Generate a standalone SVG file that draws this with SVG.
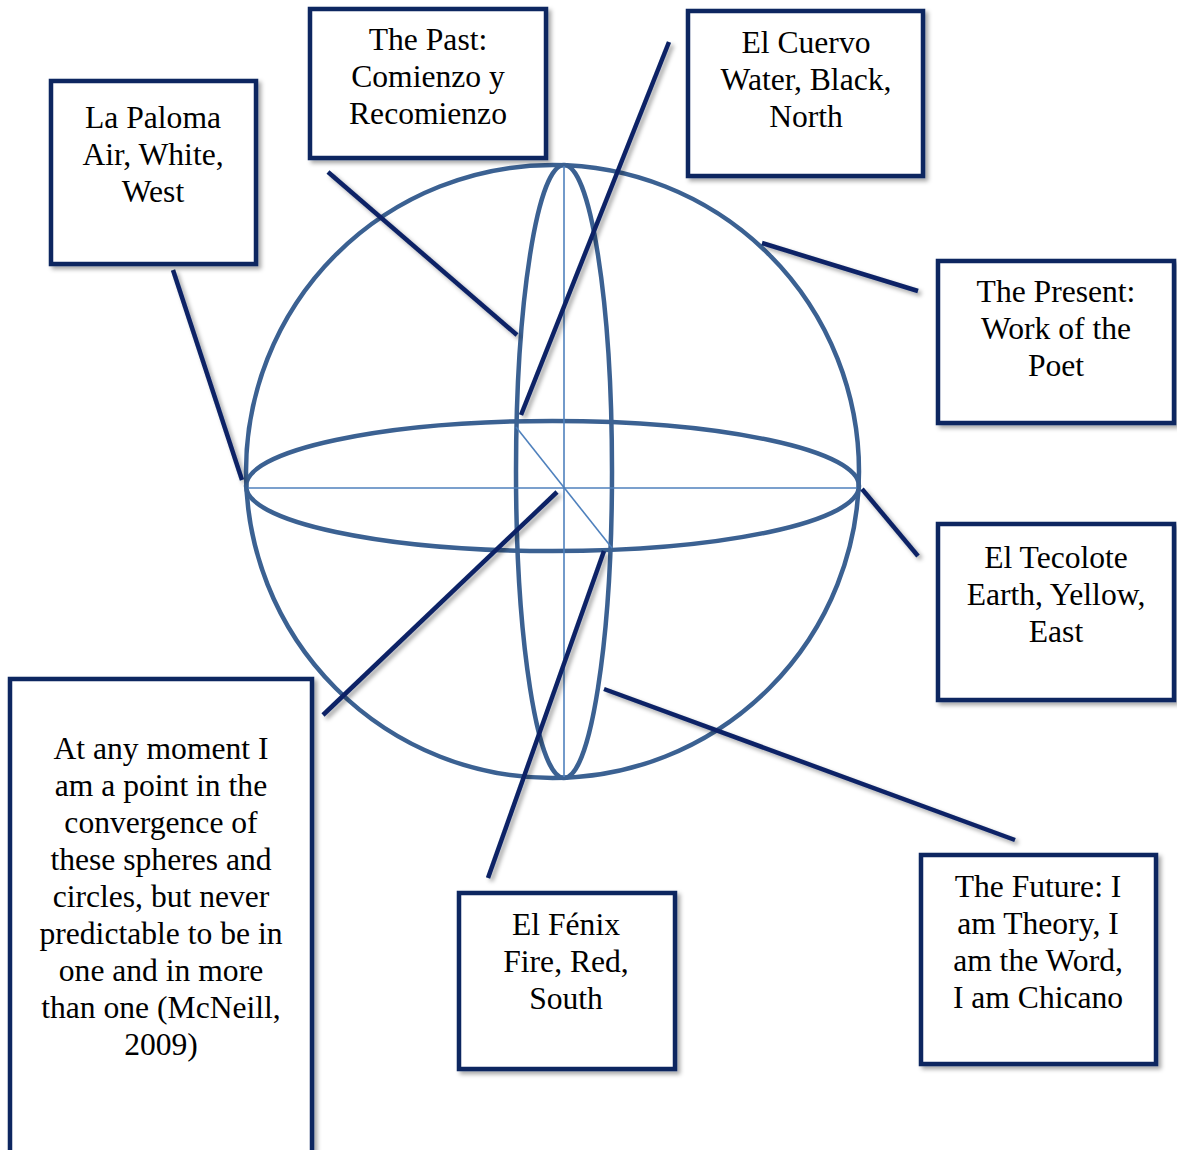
<svg xmlns="http://www.w3.org/2000/svg" width="1177" height="1150" viewBox="0 0 1177 1150">
<defs>
<filter id="sh" x="-10%" y="-10%" width="130%" height="130%">
<feDropShadow dx="3" dy="3" stdDeviation="2" flood-color="#000" flood-opacity="0.35"/>
</filter>
</defs>
<style>
.box{fill:#fff;stroke:#0d2660;stroke-width:4.5;filter:url(#sh)}
.t{font-family:"Liberation Serif","Times New Roman",serif;font-size:31.6px;fill:#000;text-anchor:middle}
.sph{fill:none;stroke:#3b6192;stroke-width:4.5}
.thin{fill:none;stroke:#4f81bd;stroke-width:1.6}
.con{stroke:#0b2466;stroke-width:4.5;fill:none;filter:url(#sh)}
</style>
<rect width="1177" height="1150" fill="#fff"/>
<g id="sphere">
<circle class="sph" cx="552.5" cy="471.5" r="306.5"/>
<ellipse class="sph" cx="552.5" cy="486" rx="306.5" ry="65"/>
<ellipse class="sph" cx="564" cy="471.5" rx="48" ry="306.5"/>
<line class="thin" x1="564" y1="166" x2="564" y2="777"/>
<line class="thin" x1="248" y1="488" x2="857" y2="488"/>
<line class="thin" x1="516" y1="427" x2="612" y2="548"/>
</g>
<g id="connectors">
<line class="con" x1="173" y1="270" x2="242" y2="480"/>
<line class="con" x1="328" y1="172" x2="517" y2="335"/>
<line class="con" x1="669" y1="42" x2="521" y2="415"/>
<line class="con" x1="762" y1="243" x2="918" y2="291"/>
<line class="con" x1="862" y1="489" x2="918" y2="556"/>
<line class="con" x1="604" y1="689" x2="1015" y2="840"/>
<line class="con" x1="604" y1="551" x2="488" y2="878"/>
<line class="con" x1="557" y1="492" x2="323" y2="715"/>
</g>
<g id="la-paloma">
<rect class="box" x="51" y="81" width="205" height="183"/>
<text class="t" x="153"><tspan x="153" y="128">La Paloma</tspan><tspan x="153" y="165">Air, White,</tspan><tspan x="153" y="202">West</tspan></text>
</g>
<g id="the-past">
<rect class="box" x="310" y="9" width="236" height="149"/>
<text class="t"><tspan x="428" y="50">The Past:</tspan><tspan x="428" y="87">Comienzo y</tspan><tspan x="428" y="124">Recomienzo</tspan></text>
</g>
<g id="el-cuervo">
<rect class="box" x="688" y="11" width="235" height="165"/>
<text class="t"><tspan x="806" y="53">El Cuervo</tspan><tspan x="806" y="90">Water, Black,</tspan><tspan x="806" y="127">North</tspan></text>
</g>
<g id="the-present">
<rect class="box" x="938" y="261" width="236" height="162"/>
<text class="t"><tspan x="1056" y="302">The Present:</tspan><tspan x="1056" y="339">Work of the</tspan><tspan x="1056" y="376">Poet</tspan></text>
</g>
<g id="el-tecolote">
<rect class="box" x="938" y="524" width="236" height="176"/>
<text class="t"><tspan x="1056" y="568">El Tecolote</tspan><tspan x="1056" y="605">Earth, Yellow,</tspan><tspan x="1056" y="642">East</tspan></text>
</g>
<g id="the-future">
<rect class="box" x="921" y="855" width="235" height="209"/>
<text class="t"><tspan x="1038" y="897">The Future: I</tspan><tspan x="1038" y="934">am Theory, I</tspan><tspan x="1038" y="971">am the Word,</tspan><tspan x="1038" y="1008">I am Chicano</tspan></text>
</g>
<g id="el-fenix">
<rect class="box" x="459" y="893" width="216" height="176"/>
<text class="t"><tspan x="566" y="935">El Fénix</tspan><tspan x="566" y="972">Fire, Red,</tspan><tspan x="566" y="1009">South</tspan></text>
</g>
<g id="quote">
<rect class="box" x="10" y="679" width="302" height="480"/>
<text class="t"><tspan x="161" y="759">At any moment I</tspan><tspan x="161" y="796">am a point in the</tspan><tspan x="161" y="833">convergence of</tspan><tspan x="161" y="870">these spheres and</tspan><tspan x="161" y="907">circles, but never</tspan><tspan x="161" y="944">predictable to be in</tspan><tspan x="161" y="981">one and in more</tspan><tspan x="161" y="1018">than one (McNeill,</tspan><tspan x="161" y="1055">2009)</tspan></text>
</g>
</svg>
